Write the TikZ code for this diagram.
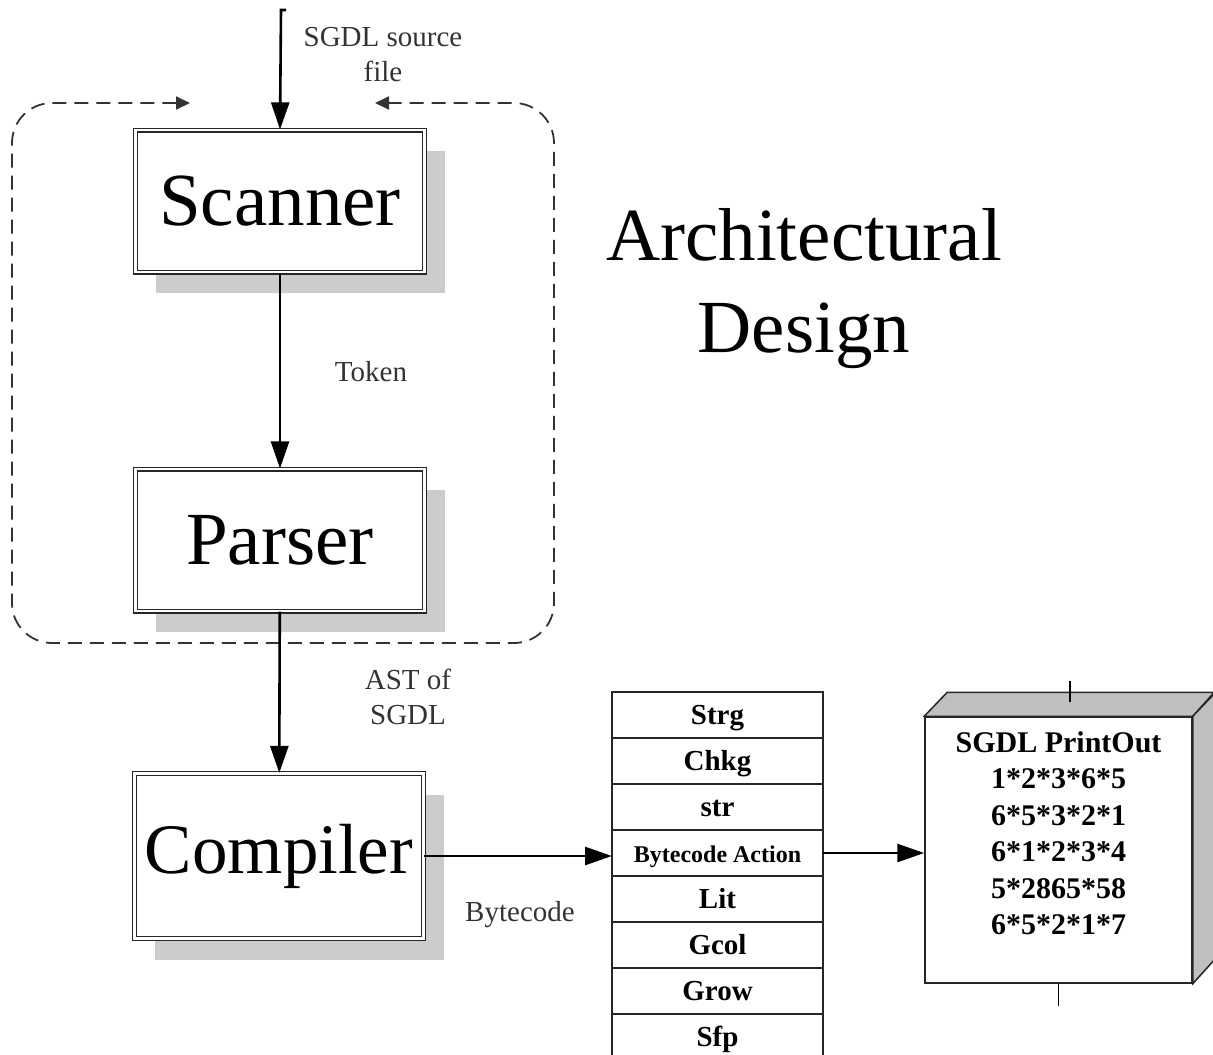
\documentclass[tikz,border=0pt]{standalone}
\usepackage{fontspec}
\setmainfont{Liberation Serif}
\usetikzlibrary{arrows.meta,positioning,shadows}

\tikzset{
  stage/.style={draw=black!85, line width=1.2pt, double=white, double distance=2.6pt,
    fill=white, minimum width=289pt, minimum height=142pt, inner sep=0pt,
    font=\fontsize{75}{90}\selectfont,
    drop shadow={shadow xshift=20pt, shadow yshift=-21pt, fill=black!20, opacity=1}},
  cell/.style={draw=black!85, line width=1.5pt, minimum width=211pt, minimum height=46pt,
    inner sep=0pt, outer sep=0pt, text height=24pt, text depth=6pt,
    font=\fontsize{29}{34}\selectfont\bfseries},
  lbl/.style={text=black!80, align=center, font=\fontsize{29}{35}\selectfont},
  conn/.style={line width=2.6pt, -{Triangle[length=27pt,width=18pt]}},
  feedback/.style={draw=black!80, line width=1.8pt, dash pattern=on 14pt off 8pt,
    rounded corners=40pt, {Triangle[length=14pt,width=13pt]}-{Triangle[length=14pt,width=13pt]}}
}

\begin{document}
\begin{tikzpicture}[x=1pt, y=-1pt]
    \useasboundingbox (0,0) rectangle (1213,1055);

    % front end
    \draw[feedback] (190,103) -- (12,103) -- (12,643) -- (554,643) -- (554,103) -- (375,103);

    \node[stage] (scanner) at (280,201) {Scanner};
    \node[stage] (parser) at (280,540) {Parser};
    \node[stage, minimum height=165pt, font=\fontsize{71}{85}\selectfont] (compiler) at (279,856) {Compiler};

    \coordinate (src) at (281,10);
    \draw[conn] ([xshift=5pt]src) -- (src) -- (scanner.north);
    \draw[conn] (scanner) -- (parser);
    \draw[conn] (parser) -- (compiler);

    \node[lbl] (srclbl) at (383,55) {SGDL source\\file};
    \node[lbl] (toklbl) at (371,372) {Token};
    \node[lbl] (astlbl) at (408,697) {AST of\\SGDL};
    \node[lbl] (bclbl) at (520,915) {Bytecode};

    \node[align=center, font=\fontsize{75}{92}\selectfont] (title) at (804,289) {Architectural\\Design};

    % bytecode stack
    \node[cell] (s1) at (717.5,715) {Strg};
    \foreach \prev/\cur/\txt in {s1/s2/Chkg, s2/s3/str,
        s3/s4/{\fontsize{24}{28}\selectfont Bytecode Action},
        s4/s5/Lit, s5/s6/Gcol, s6/s7/Grow, s7/s8/Sfp}
      \node[cell, below=0pt of \prev] (\cur) {\txt};

    % output box
    \node[draw=black!85, line width=1.5pt, fill=white, minimum width=267pt, minimum height=266pt,
      inner sep=0pt, align=center, text depth=34pt, font=\fontsize{30}{36.5}\selectfont\bfseries]
      (printout) at (1058.5,850)
      {SGDL PrintOut\\1*2*3*6*5\\6*5*3*2*1\\6*1*2*3*4\\5*2865*58\\6*5*2*1*7};
    \filldraw[fill=black!25, draw=black!85, line width=1.5pt]
      (printout.north west) -- ++(23,-24) -- ++(267,0) -- (printout.north east) -- cycle;
    \filldraw[fill=black!25, draw=black!85, line width=1.5pt]
      (printout.north east) -- ++(23,-24) -- ++(0,266) -- (printout.south east) -- cycle;
    \draw[line width=1.5pt] ([xshift=11.5pt, yshift=14pt]printout.north) -- ++(0,-21);
    \draw[line width=1.5pt] (printout.south) -- ++(0,22);

    \draw[conn] (compiler.east) -- (compiler.east -| s4.west);
    \draw[conn] (s4.east) -- (s4.east -| printout.west);
\end{tikzpicture}
\end{document}
